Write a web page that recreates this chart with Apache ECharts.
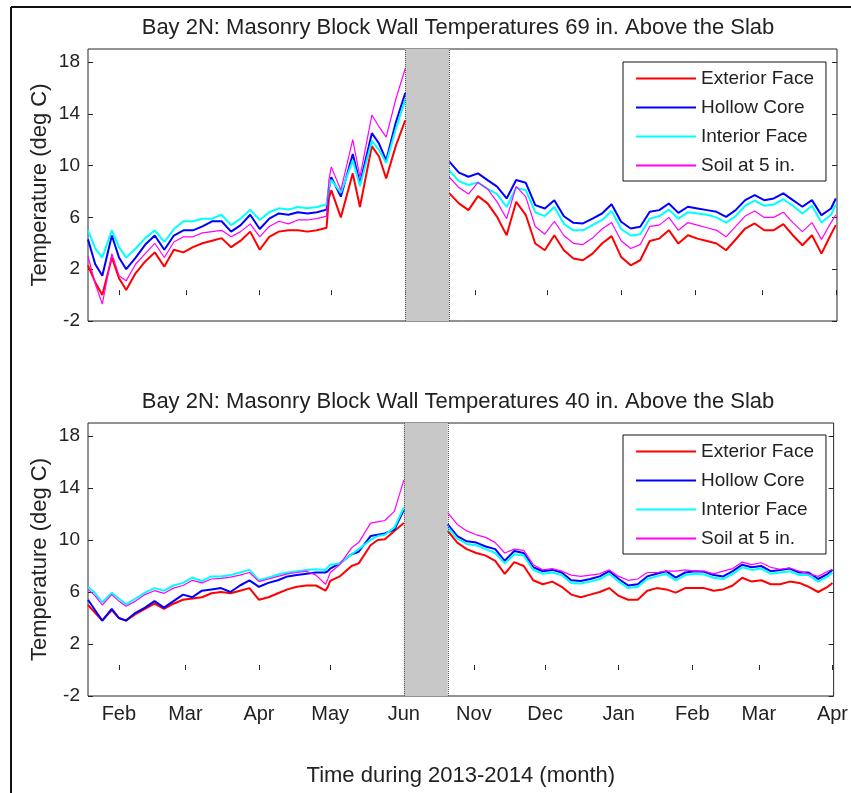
<!DOCTYPE html>
<html>
<head>
<meta charset="utf-8">
<title>Bay 2N: Masonry Block Wall Temperatures</title>
<script src="https://cdn.jsdelivr.net/npm/echarts@6/dist/echarts.min.js"></script>
<style>
  html, body { margin: 0; padding: 0; background: #fff; }
  #chart { width: 851px; height: 793px; }
</style>
</head>
<body>
<div id="chart"></div>
<script>
// sample dates: spring 2013 span, and autumn 2013 - spring 2014 span
var leftDates = ['2013-01-19', '2013-01-22', '2013-01-25', '2013-01-29', '2013-02-01', '2013-02-04',
  '2013-02-08', '2013-02-12', '2013-02-16', '2013-02-20', '2013-02-24', '2013-02-28', '2013-03-04',
  '2013-03-08', '2013-03-12', '2013-03-16', '2013-03-20', '2013-03-24', '2013-03-28', '2013-04-01',
  '2013-04-05', '2013-04-09', '2013-04-13', '2013-04-17', '2013-04-21', '2013-04-25', '2013-04-29',
  '2013-04-30', '2013-05-01', '2013-05-05', '2013-05-10', '2013-05-13', '2013-05-18', '2013-05-21',
  '2013-05-24', '2013-05-28', '2013-06-01']
var rightDates = ['2013-10-21', '2013-10-25', '2013-10-29', '2013-11-02', '2013-11-06', '2013-11-10',
  '2013-11-14', '2013-11-18', '2013-11-22', '2013-11-26', '2013-11-30', '2013-12-04', '2013-12-08',
  '2013-12-12', '2013-12-16', '2013-12-20', '2013-12-24', '2013-12-28', '2014-01-01', '2014-01-05',
  '2014-01-09', '2014-01-13', '2014-01-17', '2014-01-21', '2014-01-25', '2014-01-29', '2014-02-02',
  '2014-02-06', '2014-02-10', '2014-02-14', '2014-02-18', '2014-02-22', '2014-02-26', '2014-03-02',
  '2014-03-06', '2014-03-10', '2014-03-14', '2014-03-18', '2014-03-22', '2014-03-26', '2014-03-30',
  '2014-04-01']

// 69 in. above the slab (deg C)
var ext69L = [2.3, 1.0, 0.0, 2.9, 1.3, 0.4, 1.7, 2.6, 3.3, 2.2, 3.5, 3.3, 3.7, 4.0, 4.2, 4.4, 3.7, 4.2, 4.9,
  3.5, 4.5, 4.9, 5.0, 5.0, 4.9, 5.0, 5.2, 7.5, 8.1, 6.0, 9.4, 6.8, 11.5, 10.7, 9.0, 11.5, 13.5]
var core69L = [4.3, 2.4, 1.5, 4.6, 2.9, 2.0, 2.9, 3.9, 4.6, 3.5, 4.6, 5.0, 5.0, 5.3, 5.7, 5.7, 4.9, 5.4, 6.2,
  5.1, 5.9, 6.3, 6.2, 6.4, 6.3, 6.4, 6.6, 8.2, 9.1, 7.6, 10.9, 8.6, 12.5, 11.7, 10.4, 13.3, 15.6]
var int69L = [5.0, 3.6, 2.9, 5.0, 3.7, 2.9, 3.6, 4.4, 5.0, 4.1, 5.1, 5.7, 5.7, 5.9, 5.9, 6.2, 5.4, 5.9, 6.6,
  5.8, 6.4, 6.7, 6.6, 6.8, 6.7, 6.8, 7.0, 8.4, 8.9, 7.9, 10.4, 8.4, 11.9, 11.2, 10.2, 12.8, 15.1]
var soil69L = [3.0, 0.9, -0.7, 3.2, 1.5, 1.1, 2.4, 3.2, 4.0, 2.9, 4.1, 4.5, 4.5, 4.8, 4.9, 5.0, 4.5, 4.9, 5.5,
  4.5, 5.3, 5.7, 5.5, 5.8, 5.8, 5.9, 6.1, 8.9, 9.9, 8.1, 12.0, 9.1, 13.9, 13.0, 12.2, 15.1, 17.5]
var ext69R = [7.85, 7.08, 6.56, 7.64, 7.08, 6.04, 4.62, 7.2, 6.2, 3.98, 3.46, 4.62, 3.46, 2.82, 2.69, 3.2,
  3.98, 4.55, 2.95, 2.3, 2.69, 4.18, 4.36, 5.01, 3.98, 4.62, 4.36, 4.18, 3.98, 3.46, 4.29, 5.14, 5.53, 5.01,
  5.01, 5.48, 4.62, 3.85, 4.62, 3.2, 4.7, 5.4]
var core69R = [10.3, 9.45, 9.14, 9.4, 8.88, 8.37, 7.46, 8.88, 8.68, 6.95, 6.69, 7.33, 6.09, 5.58, 5.53, 5.91,
  6.3, 7.02, 5.66, 5.14, 5.27, 6.43, 6.56, 7.07, 6.35, 6.82, 6.69, 6.56, 6.43, 6.04, 6.56, 7.33, 7.72, 7.33,
  7.46, 7.85, 7.33, 6.82, 7.33, 6.17, 6.69, 7.46]
var int69R = [9.6, 8.8, 8.5, 8.7, 8.2, 7.8, 6.8, 8.3, 8.1, 6.4, 6.1, 6.8, 5.5, 5.0, 5.0, 5.4, 5.8, 6.5, 5.1,
  4.6, 4.7, 5.9, 6.1, 6.6, 5.9, 6.4, 6.3, 6.2, 6.0, 5.6, 6.1, 6.9, 7.3, 6.9, 7.0, 7.4, 6.9, 6.3, 6.9, 5.6,
  6.2, 7.0]
var soil69R = [9.1, 8.3, 7.8, 8.7, 8.2, 7.2, 5.9, 8.4, 7.6, 5.3, 4.7, 5.7, 4.6, 4.0, 3.9, 4.4, 5.1, 5.6, 4.2,
  3.6, 3.9, 5.3, 5.4, 6.0, 5.0, 5.6, 5.4, 5.2, 5.0, 4.5, 5.3, 6.1, 6.5, 6.0, 6.0, 6.4, 5.6, 4.9, 5.6, 4.3,
  5.6, 6.2]

// 40 in. above the slab (deg C)
var ext40L = [5.0, 4.4, 3.8, 4.6, 4.0, 3.8, 4.3, 4.7, 5.1, 4.7, 5.1, 5.4, 5.5, 5.6, 5.9, 6.0, 5.9, 6.1, 6.3,
  5.4, 5.6, 5.9, 6.2, 6.4, 6.5, 6.5, 6.1, 6.4, 6.85, 7.2, 8.0, 8.2, 9.6, 10.0, 10.05, 10.7, 11.3]
var core40L = [5.4, 4.6, 3.8, 4.7, 4.0, 3.8, 4.4, 4.8, 5.3, 4.8, 5.3, 5.8, 5.6, 6.1, 6.2, 6.3, 6.0, 6.5, 6.9,
  6.4, 6.7, 6.9, 7.2, 7.3, 7.4, 7.5, 7.5, 7.6, 7.8, 8.2, 8.9, 9.1, 10.3, 10.4, 10.5, 10.8, 12.3]
var int40L = [6.4, 5.9, 5.2, 5.95, 5.5, 5.05, 5.5, 5.95, 6.3, 6.1, 6.5, 6.7, 7.1, 6.85, 7.2, 7.2, 7.3, 7.5,
  7.7, 6.9, 7.1, 7.35, 7.5, 7.6, 7.7, 7.75, 7.7, 7.9, 8.1, 8.2, 8.9, 9.3, 10.0, 10.3, 10.4, 10.95, 12.5]
var soil40L = [6.2, 5.7, 5.0, 5.8, 5.3, 4.9, 5.3, 5.8, 6.1, 5.9, 6.3, 6.5, 6.9, 6.7, 7.0, 7.05, 7.15, 7.3,
  7.5, 6.8, 7.0, 7.2, 7.4, 7.5, 7.6, 7.3, 6.6, 7.0, 7.5, 8.1, 9.4, 9.8, 11.3, 11.4, 11.5, 12.2, 14.6]
var ext40R = [10.7, 9.8, 9.3, 9.0, 8.8, 8.4, 7.4, 8.3, 8.0, 6.9, 6.6, 6.8, 6.4, 5.8, 5.6, 5.8, 6.0, 6.3, 5.7,
  5.4, 5.4, 6.1, 6.3, 6.2, 5.95, 6.3, 6.3, 6.3, 6.1, 6.2, 6.5, 7.1, 6.8, 6.9, 6.6, 6.6, 6.8, 6.7, 6.4, 6.0,
  6.4, 6.7]
var core40R = [11.2, 10.3, 9.9, 9.8, 9.5, 9.3, 8.4, 9.15, 9.0, 7.9, 7.6, 7.7, 7.5, 6.9, 6.85, 7.0, 7.2, 7.6,
  7.0, 6.5, 6.6, 7.2, 7.4, 7.6, 7.1, 7.5, 7.6, 7.55, 7.3, 7.2, 7.6, 8.1, 7.9, 8.0, 7.6, 7.7, 7.8, 7.5, 7.5,
  7.0, 7.4, 7.7]
var int40R = [11.0, 10.1, 9.7, 9.6, 9.3, 9.0, 8.2, 8.9, 8.8, 7.7, 7.4, 7.5, 7.3, 6.7, 6.65, 6.8, 7.0, 7.4,
  6.8, 6.3, 6.4, 7.0, 7.2, 7.4, 6.9, 7.3, 7.4, 7.35, 7.1, 7.0, 7.4, 7.9, 7.7, 7.8, 7.4, 7.5, 7.6, 7.3, 7.3,
  6.8, 7.2, 7.5]
var soil40R = [12.1, 11.2, 10.7, 10.4, 10.2, 9.8, 9.0, 9.3, 9.2, 8.1, 7.7, 7.8, 7.6, 7.3, 7.2, 7.3, 7.4, 7.7,
  7.2, 6.9, 7.0, 7.5, 7.5, 7.6, 7.6, 7.7, 7.6, 7.6, 7.4, 7.6, 7.8, 8.3, 8.1, 8.25, 7.9, 7.75, 7.85, 7.6, 7.4,
  7.2, 7.6, 7.75]

// axis ticks
var monthDates = ['2013-02-01', '2013-03-01', '2013-04-01', '2013-05-01', '2013-06-01', '2013-11-01',
  '2013-12-01', '2014-01-01', '2014-02-01', '2014-03-01', '2014-04-01']
var monthLabels = ['Feb', 'Mar', 'Apr', 'May', 'Jun', 'Nov', 'Dec', 'Jan', 'Feb', 'Mar', 'Apr']
var yTicks = [-2, 2, 6, 10, 14, 18]

var names = ['Exterior Face', 'Hollow Core', 'Interior Face', 'Soil at 5 in.']
var colors = ['#ff0000', '#0000ff', '#00ffff', '#ff00ff']
var widths = [2, 2, 2, 1.2]

var FONT = 'Liberation Sans, Arial, Helvetica, sans-serif'
var INK = '#222'

// the summer (Jun 1 - Oct 21) is squeezed into a shaded band
var GAP_START = 151 // Jun 1 2013, days since Jan 1 2013
var GAP_END = 293 // Oct 21 2013
var GAP_WIDTH = 18.5

function dayNum (s) {
  var p = s.split('-')
  return (Date.UTC(+p[0], +p[1] - 1, +p[2]) - Date.UTC(2013, 0, 1)) / 86400000
}
function toX (s) {
  var d = dayNum(s)
  return d > GAP_START ? d - (GAP_END - GAP_START - GAP_WIDTH) : d
}

var monthX = monthDates.map(toX)

function joinSpans (left, right) {
  var out = left.map(function (v, i) { return [toX(leftDates[i]), v] })
  out.push([GAP_START + GAP_WIDTH / 2, '-'])
  right.forEach(function (v, i) { out.push([toX(rightDates[i]), v]) })
  return out
}

var panels = [
  { top: 49, height: 272, labels: false, sets: [[ext69L, ext69R], [core69L, core69R], [int69L, int69R], [soil69L, soil69R]] },
  { top: 423, height: 273, labels: true, sets: [[ext40L, ext40R], [core40L, core40R], [int40L, int40R], [soil40L, soil40R]] }
]

var grids = []
var xAxes = []
var yAxes = []
var series = []
var legends = []

panels.forEach(function (p, k) {
  grids.push({ left: 88, width: 749, top: p.top, height: p.height, show: true, borderColor: '#262626', borderWidth: 1, containLabel: false })
  xAxes.push({
    gridIndex: k,
    type: 'value',
    min: 18,
    max: 332,
    axisLine: { show: false },
    splitLine: { show: false },
    axisTick: { show: true, inside: true, length: 5, customValues: monthX, lineStyle: { color: '#262626' } },
    axisLabel: {
      show: p.labels,
      customValues: monthX,
      margin: 8,
      fontSize: 20,
      fontFamily: FONT,
      color: INK,
      formatter: function (v) {
        var best = 0
        monthX.forEach(function (m, i) { if (Math.abs(m - v) < Math.abs(monthX[best] - v)) best = i })
        return monthLabels[best]
      }
    },
    name: p.labels ? 'Time during 2013-2014 (month)' : '',
    nameLocation: 'middle',
    nameGap: 69,
    nameMoveOverlap: false,
    nameTextStyle: { fontSize: 22, fontFamily: FONT, color: INK }
  })
  yAxes.push({
    gridIndex: k,
    type: 'value',
    min: -2,
    max: 19,
    axisLine: { show: false },
    splitLine: { show: false },
    axisTick: { show: true, inside: true, length: 5, customValues: yTicks, lineStyle: { color: '#262626' } },
    axisLabel: { customValues: yTicks, margin: 8, fontSize: 19, fontFamily: FONT, color: INK },
    name: 'Temperature (deg C)',
    nameLocation: 'middle',
    nameGap: 37,
    nameMoveOverlap: false,
    nameTextStyle: { fontSize: 22, fontFamily: FONT, color: INK }
  })
  yAxes.push({
    gridIndex: k,
    type: 'value',
    position: 'right',
    min: -2,
    max: 19,
    axisLine: { show: false },
    splitLine: { show: false },
    axisTick: { show: true, inside: true, length: 5, customValues: yTicks, lineStyle: { color: '#262626' } },
    axisLabel: { show: false }
  })

  p.sets.forEach(function (pair, j) {
    var s = {
      name: names[j],
      type: 'line',
      xAxisIndex: k,
      yAxisIndex: k * 2,
      data: joinSpans(pair[0], pair[1]),
      symbol: 'none',
      showSymbol: false,
      connectNulls: false,
      lineStyle: { color: colors[j], width: widths[j] },
      itemStyle: { color: colors[j] },
      emphasis: { disabled: true },
      z: 3
    }
    if (j === 0) {
      s.markArea = {
        silent: true,
        itemStyle: { color: '#c8c8c8', borderWidth: 0 },
        data: [[{ xAxis: GAP_START }, { xAxis: GAP_START + GAP_WIDTH }]]
      }
      s.markLine = {
        silent: true,
        symbol: ['none', 'none'],
        label: { show: false },
        lineStyle: { type: 'dotted', color: '#555', width: 1 },
        data: [{ xAxis: GAP_START }, { xAxis: GAP_START + GAP_WIDTH }]
      }
    }
    series.push(s)
  })

  legends.push({
    data: names.map(function (n, j) {
      return { name: n, icon: 'rect', itemStyle: { color: colors[j] } }
    }),
    orient: 'vertical',
    left: 623,
    top: k === 0 ? 62 : 435,
    itemWidth: 60,
    itemHeight: 2,
    itemGap: 10,
    padding: [7, 12, 6, 13],
    borderColor: '#111',
    borderWidth: 1,
    backgroundColor: '#fff',
    selectedMode: false,
    textStyle: { fontSize: 19, lineHeight: 19, fontFamily: FONT, color: INK }
  })
})

var chart = echarts.init(document.getElementById('chart'), null, { renderer: 'canvas' })
chart.setOption({
  animation: false,
  backgroundColor: '#fff',
  grid: grids,
  xAxis: xAxes,
  yAxis: yAxes,
  legend: legends,
  series: series,
  graphic: [
    { type: 'line', shape: { x1: 11, y1: 7, x2: 851, y2: 7 }, style: { stroke: '#111', lineWidth: 2 } },
    { type: 'line', shape: { x1: 11, y1: 7, x2: 11, y2: 793 }, style: { stroke: '#111', lineWidth: 2 } },
    {
      type: 'text', x: 458, y: 28,
      style: { text: 'Bay 2N: Masonry Block Wall Temperatures 69 in. Above the Slab', align: 'center', verticalAlign: 'middle', fontSize: 22, fontFamily: FONT, fill: INK }
    },
    {
      type: 'text', x: 458, y: 402,
      style: { text: 'Bay 2N: Masonry Block Wall Temperatures 40 in. Above the Slab', align: 'center', verticalAlign: 'middle', fontSize: 22, fontFamily: FONT, fill: INK }
    }
  ]
})
</script>
</body>
</html>
